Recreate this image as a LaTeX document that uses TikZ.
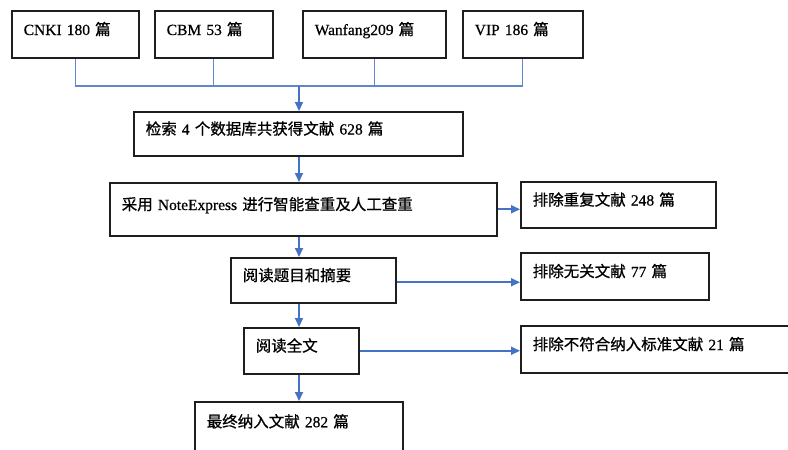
\documentclass[tikz,border=0pt]{standalone}
\usepackage{fontspec}
\setmainfont{Liberation Serif}[FakeBold=0.6]
\newfontfamily\cjk{Noto Sans CJK SC}[FakeBold=0.8]
\usepackage{tikz}
\usetikzlibrary{arrows.meta,calc,positioning,shapes}
\newcommand{\zh}[1]{{\cjk #1}}
\definecolor{my_black}{RGB}{30, 30, 30}
\definecolor{my_blue}{RGB}{68, 114, 196}
\tikzset{
  stagebox/.style = {rectangle, draw=my_black, line width=1.5pt, anchor=north west,
  inner xsep=12pt, align=left, text height=11pt, text depth=9.5pt,
  font=\fontsize{15.5}{18}\selectfont},
  db_box/.style = {stagebox, minimum height=47pt},
  out_box/.style = {stagebox}
}

\begin{document}
\begin{tikzpicture}[x=1pt, y=-1pt, >={Triangle[length=9pt,width=8pt]},
        	flow/.style={->, draw=my_blue, line width=2pt},
        	busline/.style={draw=my_blue!85, line width=1.1pt}]
    \clip (0,0) rectangle (788,450);
    % databases
    \node [db_box, text width=103pt] (cnki) at (11,10) {CNKI 180 \zh{篇}};
    \node [db_box, text width=94pt] (cbm) at (154,10) {CBM 53 \zh{篇}};
    \node [db_box, text width=119pt] (wanfang) at (302,10) {Wanfang209 \zh{篇}};
    \node [db_box, text width=96pt] (vip) at (462,10) {VIP 186 \zh{篇}};
    % main flow
    \node [stagebox, text width=305pt, minimum height=44pt] (search) at (133,111)
        {\zh{检索} 4 \zh{个数据库共获得文献} 628 \zh{篇}};
    \node [stagebox, text width=363pt, minimum height=53pt] (dedup) at (109,182)
        {\zh{采用} NoteExpress \zh{进行智能查重及人工查重}};
    \node [stagebox, text width=141pt, minimum height=45pt] (abstract) at (230,257)
        {\zh{阅读题目和摘要}};
    \node [stagebox, text width=91pt, minimum height=46pt] (fulltext) at (243,327)
        {\zh{阅读全文}};
    \node [stagebox, text width=184pt, minimum height=70pt, text depth=30pt] (final) at (194,401)
        {\zh{最终纳入文献} 282 \zh{篇}};
    % excluded
    \node [out_box, text width=171pt, minimum height=46pt] (dup) at (520,181)
        {\zh{排除重复文献} 248 \zh{篇}};
    \node [out_box, text width=164pt, minimum height=47pt] (irrelevant) at (520,252)
        {\zh{排除无关文献} 77 \zh{篇}};
    \node [out_box, text width=256pt, minimum height=47pt] (criteria) at (520,325)
        {\zh{排除不符合纳入标准文献} 21 \zh{篇}};

    \coordinate (bus) at (299,86);
    \draw [busline] (cnki.south) |- (vip.south |- bus) -- (vip.south);
    \draw [busline] (cbm.south) -- (cbm.south |- bus);
    \draw [busline] (wanfang.south) -- (wanfang.south |- bus);
    \draw [flow] (bus) -- (bus |- search.north);
    \draw [flow] (bus |- search.south) -- (bus |- dedup.north);
    \draw [flow] (bus |- dedup.south) -- (bus |- abstract.north);
    \draw [flow] (bus |- abstract.south) -- (bus |- fulltext.north);
    \draw [flow] (bus |- fulltext.south) -- (bus |- final.north);
    \draw [flow] (dedup.east) -- (dedup.east -| dup.west);
    \draw [flow] ($(abstract.east)+(0,2)$) -- ($(abstract.east -| irrelevant.west)+(0,2)$);
    \draw [flow] (fulltext.east) -- (fulltext.east -| criteria.west);
\end{tikzpicture}
\end{document}
